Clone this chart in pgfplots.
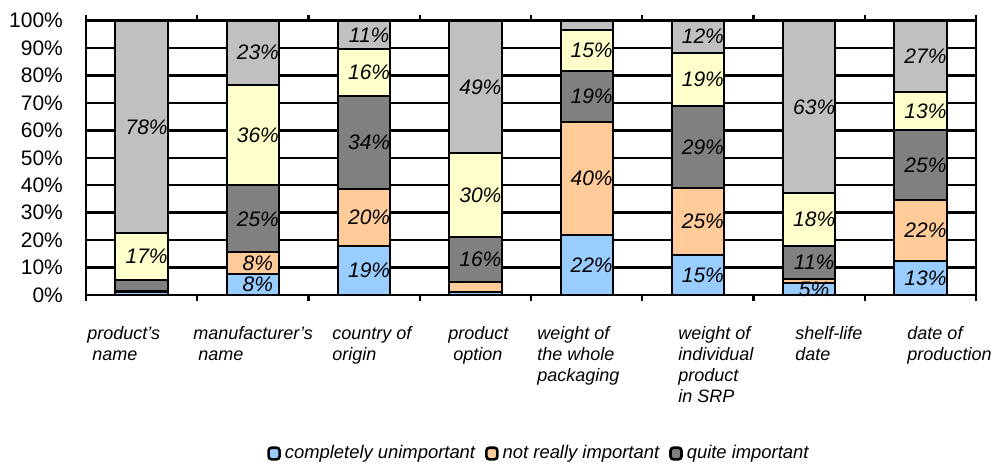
\documentclass[border=0pt]{standalone}
\usepackage{fontspec}
\setmainfont{Liberation Sans}
\usepackage{pgfplots}
\pgfplotsset{compat=1.18}
\definecolor{cBlue}{HTML}{99CCFF}
\definecolor{cOrange}{HTML}{FFCC99}
\definecolor{cDark}{HTML}{808080}
\definecolor{cYellow}{HTML}{FFFFCC}
\definecolor{cGray}{HTML}{C0C0C0}
\pgfplotsset{
  common/.style={scale only axis, width=445pt, height=137.25pt, clip=false,
    xmin=-0.5, xmax=7.5, ymin=0, ymax=100},
}
\begin{document}
\begin{tikzpicture}
\begin{axis}[
  common,
  ybar stacked, bar width=0.47,
  ytick={0,10,...,100},
  yticklabel={\pgfmathprintnumber{\tick}\%},
  /pgf/number format/assume math mode=true,
  yticklabel style={font=\fontsize{10.5}{12}\selectfont, xshift=-5pt},
  ymajorgrids, major grid style={black, line width=1.2pt},
  axis line style={black, line width=1.4pt},
  tick align=outside,
  major tick length=3pt,
  ytick style={draw=none},
  xtick={-0.5,0.5,...,7.5}, xticklabels={},
  xtick style={black, line width=1.2pt},
  extra x ticks={-0.491,0.462,1.711,2.754,3.554,4.821,5.873,6.880},
  extra x tick labels={
    {product’s\\\hspace*{0.28em}name},
    {manufacturer’s\\\hspace*{0.28em}name},
    {country of\\origin},
    {product\\\hspace*{0.28em}option},
    {weight of\\the whole\\packaging},
    {weight of\\individual\\product\\in SRP},
    {shelf-life\\date},
    {date of\\production}},
  extra x tick style={major tick length=0pt, grid=none,
    xticklabel style={anchor=north west, align=left, inner xsep=0pt, inner ysep=0pt,
      yshift=-15.5pt, font=\fontsize{9}{10.5}\selectfont\itshape}},
  legend style={at={(0.510,-0.578)}, anchor=center, draw=none, fill=none,
    font=\fontsize{9.2}{11}\selectfont\itshape, legend columns=-1,
    /tikz/every odd column/.append style={column sep=0pt},
    /tikz/every even column/.append style={column sep=3pt},
    inner sep=0pt},
  legend image code/.code={\draw[#1, draw=black, line width=1.3pt, rounded corners=1.5pt] (0pt,-2.8pt) rectangle (5.5pt,3pt);},
  legend entries={completely unimportant, not really important, quite important},
  every axis plot/.append style={draw=black, line width=1pt},
]
% bottom to top: completely unimportant, not really important, quite important, important, very important
\addplot[fill=cBlue] coordinates {
  (0,1) (1,7.5) (2,18) (3,1.2) (4,22) (5,14.5) (6,4.5) (7,12.5)};
\addplot[fill=cOrange] coordinates {
  (0,0.5) (1,8) (2,20.5) (3,3.6) (4,41) (5,24.5) (6,1.5) (7,22)};
\addplot[fill=cDark] coordinates {
  (0,4) (1,24.5) (2,34) (3,16.4) (4,18.5) (5,30) (6,12) (7,25.5)};
\addplot[fill=cYellow] coordinates {
  (0,17) (1,36.5) (2,17) (3,30.4) (4,15) (5,19.3) (6,19) (7,14)};
\addplot[fill=cGray] coordinates {
  (0,77.5) (1,23.5) (2,10.5) (3,48.4) (4,3.5) (5,11.7) (6,63) (7,26)};
\path (rel axis cs:-0.0966,-0.623) rectangle (rel axis cs:1.0213,1.0747);
\end{axis}
% data labels at the middle of each segment
\begin{axis}[
  common, hide axis,
  nodes near coords={\pgfplotspointmeta},
  point meta=explicit symbolic,
  every node near coord/.append style={anchor=center, inner sep=0pt,
      font=\fontsize{10.5}{12}\selectfont\itshape, black, xshift=2.5pt},
]
\addplot[only marks, mark=none] coordinates {
  (1,3.75) [8\%] (2,9) [19\%] (4,11) [22\%] (5,7.25) [15\%] (6,2.25) [5\%] (7,6.25) [13\%]
  (1,11.5) [8\%] (2,28.25) [20\%] (4,42.5) [40\%] (5,26.75) [25\%] (7,23.5) [22\%]
  (1,27.75) [25\%] (2,55.5) [34\%] (3,13) [16\%] (4,72.25) [19\%] (5,54) [29\%] (6,12) [11\%] (7,47.25) [25\%]
  (0,14) [17\%] (1,58.25) [36\%] (2,81) [16\%] (3,36.4) [30\%] (4,89) [15\%] (5,78.65) [19\%] (6,27.5) [18\%] (7,67) [13\%]
  (0,61.25) [78\%] (1,88.25) [23\%] (2,94.75) [11\%] (3,75.8) [49\%] (5,94.15) [12\%] (6,68.5) [63\%] (7,87) [27\%]
};
\end{axis}
\end{tikzpicture}
\end{document}
